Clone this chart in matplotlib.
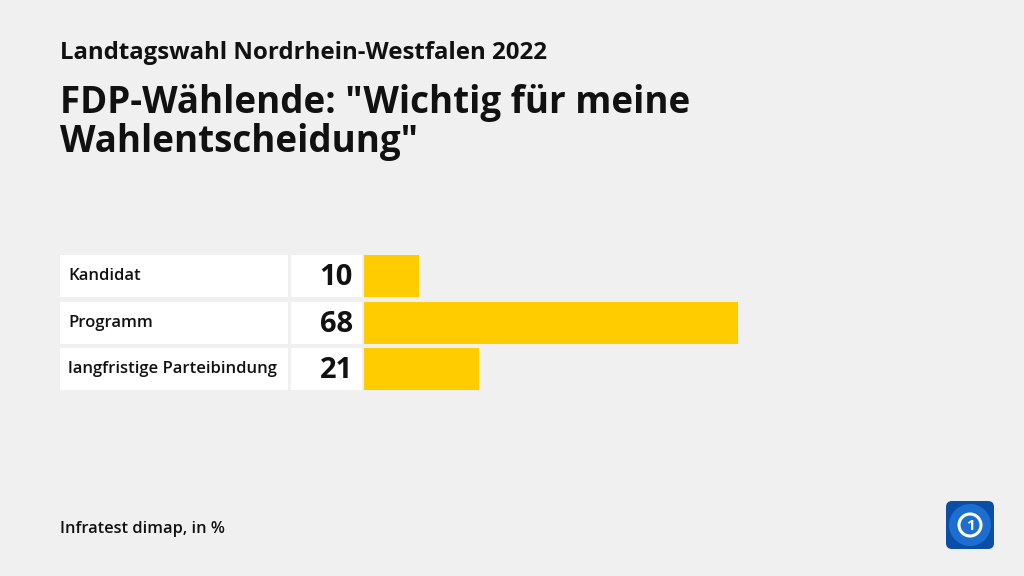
import matplotlib.pyplot as plt
from matplotlib.patches import Rectangle, FancyBboxPatch, Circle

# data
categories = ['Kandidat', 'Programm', 'langfristige Parteibindung']
values = [10, 68, 21]
supertitle = 'Landtagswahl Nordrhein-Westfalen 2022'
title = 'FDP-Wählende: "Wichtig für meine\nWahlentscheidung"'
source = 'Infratest dimap, in %'

bg = '#f0f0f0'
bar_color = '#ffcc00'
W, H = 1024, 576
px_per_unit = 5.5

plt.rcParams['font.family'] = ['Open Sans', 'DejaVu Sans']

fig = plt.figure(figsize=(W / 100, H / 100), dpi=100)
fig.patch.set_facecolor(bg)

# bars axes: left edge at the label boxes (x=60px), zero at x=364px
x0_px, zero_px, top_px = 60, 364, 253
row_px = 46.5
n = len(categories)
xmin = -(zero_px - x0_px) / px_per_unit
ax = fig.add_axes([x0_px / W, 1 - (top_px + n * row_px) / H,
                   (zero_px + 100 * px_per_unit - x0_px) / W, n * row_px / H])
ax.set_xlim(xmin, 100)
ax.set_ylim(n - 0.5, -0.5)
ax.axis('off')

bh = 0.9
label_w = (288 - x0_px) / px_per_unit
val_left = (291 - zero_px) / px_per_unit
val_w = (362 - 291) / px_per_unit
for i, (cat, v) in enumerate(zip(categories, values)):
    ax.add_patch(Rectangle((xmin, i - bh / 2), label_w, bh, facecolor='white', edgecolor='none'))
    ax.add_patch(Rectangle((val_left, i - bh / 2), val_w, bh, facecolor='white', edgecolor='none'))
    ax.text(xmin + 8 / px_per_unit, i, cat, va='center', ha='left',
            fontsize=12, fontweight='semibold', color='#111111')
    ax.text(-11 / px_per_unit, i + 0.03, str(v), va='center', ha='right',
            fontsize=21, fontweight='bold', color='#111111')

ax.barh(range(n), values, height=bh, color=bar_color, left=0)

fig.text(60 / W, 1 - 59 / H, supertitle, fontsize=17.3, fontweight='bold',
         color='#111111', ha='left', va='baseline')
fig.text(60 / W, 1 - 152 / H, title, fontsize=26.5, fontweight='bold',
         color='#111111', ha='left', va='baseline', linespacing=1.05)
fig.text(60 / W, 1 - 533 / H, source, fontsize=11.8, fontweight='semibold',
         color='#111111', ha='left', va='baseline')

# logo
lax = fig.add_axes([945 / W, 1 - 550 / H, 50 / W, 50 / H])
lax.set_xlim(0, 1)
lax.set_ylim(0, 1)
lax.axis('off')
lax.add_patch(FancyBboxPatch((0.02, 0.02), 0.96, 0.96, boxstyle='round,pad=0,rounding_size=0.12',
                             facecolor='#0a4ea8', edgecolor='none'))
lax.add_patch(Circle((0.5, 0.5), 0.42, facecolor='#1c6fd0', edgecolor='none'))
lax.add_patch(Circle((0.5, 0.5), 0.22, facecolor='none', edgecolor='white', linewidth=2.2))
lax.text(0.51, 0.49, '1', ha='center', va='center', fontsize=11, fontweight='bold', color='white')

fig.savefig('out.png', dpi=100, facecolor=bg)
